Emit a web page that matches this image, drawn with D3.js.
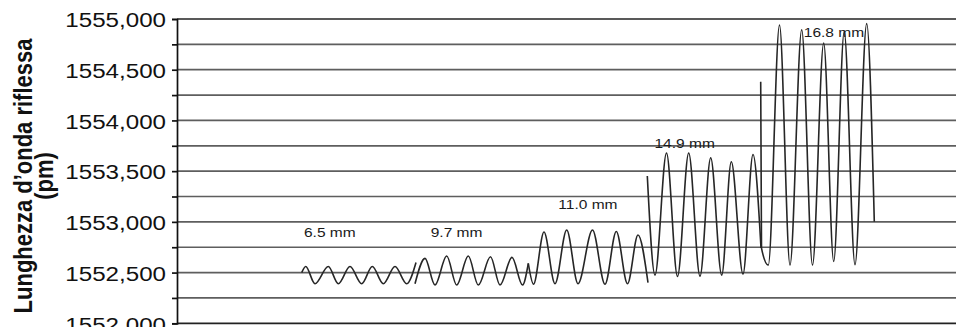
<!DOCTYPE html>
<html>
<head>
<meta charset="utf-8">
<script src="https://cdn.jsdelivr.net/npm/d3@7"></script>
<style>
  html, body { margin: 0; padding: 0; background: #fff; }
  svg { display: block; font-family: "Liberation Sans", Arial, sans-serif; }
</style>
</head>
<body>
<div id="chart"></div>
<script>
// Sample index along the record (no x axis shown) and reflected wavelength
let seg65T = [124.7, 128.7, 138, 151.3, 161.3, 173, 184.7, 195.3, 206.3, 218, 229.7, 239]
let seg65V = [1552.50, 1552.56, 1552.39, 1552.56, 1552.39, 1552.56, 1552.39, 1552.56, 1552.39, 1552.56, 1552.39, 1552.60]

let seg97T = [238, 248, 258, 269.7, 279.7, 291.3, 301.3, 313.5, 323, 335, 345.5, 351.3]
let seg97V = [1552.39, 1552.64, 1552.377, 1552.663, 1552.377, 1552.663, 1552.377, 1552.656, 1552.377, 1552.65, 1552.377, 1552.59]

let seg110T = [351.3, 356.5, 367, 378, 389.7, 401, 415.5, 428, 439.3, 450.5, 461, 471]
let seg110V = [1552.59, 1552.385, 1552.90, 1552.39, 1552.92, 1552.39, 1552.92, 1552.385, 1552.905, 1552.39, 1552.87, 1552.40]

let seg149T = [470.3, 478, 489.5, 500.5, 511.7, 523, 533.7, 544.7, 554.3, 566, 576, 584]
let seg149V = [1553.452, 1552.475, 1553.679, 1552.462, 1553.679, 1552.465, 1553.632, 1552.475, 1553.593, 1552.485, 1553.664, 1552.742]

let seg168T = [583.7, 584.5, 591.3, 602.5, 613, 624.7, 635.5, 646.7, 656.7, 667.2, 678, 689.7, 697.3]
let seg168V = [1554.382, 1552.742, 1552.574, 1554.941, 1552.574, 1554.894, 1552.574, 1554.763, 1552.61, 1554.875, 1552.577, 1554.954, 1553.001]

// Annotations (anchor in data units)
let labelText = ['6.5 mm', '9.7 mm', '11.0 mm', '14.9 mm', '16.8 mm']
let labelT = [127, 253.7, 381.3, 477.5, 626.8]
let labelV = [1552.853, 1552.853, 1553.123, 1553.725, 1554.818]

let yTicks = d3.range(1552, 1555.001, 0.25)

let margin = { top: 19, right: 0, bottom: 3.7, left: 177 }
let size = { width: 956, height: 327 }
let width = size.width - margin.left - margin.right
let height = size.height - margin.top - margin.bottom
let stretch = 1.15

let x = d3.scaleLinear().domain([0, 779]).range([0, width])
let y = d3.scaleLinear().domain([1552, 1555]).range([height, 0])

let locale = d3.formatLocale({ decimal: ',', thousands: '.', grouping: [3], currency: ['', ''] })
let fmt = locale.format('.3f')

let svg = d3.select('#chart').append('svg')
  .attr('width', size.width)
  .attr('height', size.height)

let g = svg.append('g')
  .attr('transform', `translate(${margin.left}, ${margin.top})`)

// Horizontal grid lines
g.append('g')
  .selectAll('line')
  .data(yTicks)
  .enter()
  .append('line')
  .attr('x1', 0)
  .attr('x2', width)
  .attr('y1', d => y(d))
  .attr('y2', d => y(d))
  .attr('stroke', d => (d === 1552 || d === 1555) ? '#222' : '#5e5e5e')
  .attr('stroke-width', 1.7)

// Y axis
let axis = g.append('g')
  .call(d3.axisLeft(y)
    .tickValues(yTicks)
    .tickSize(5)
    .tickPadding(6)
    .tickFormat(d => (Math.round(d * 1000) % 500 === 0) ? fmt(d) : ''))

axis.select('.domain').attr('stroke', '#111').attr('stroke-width', 1.7)
axis.selectAll('.tick line').attr('stroke', '#111').attr('stroke-width', 1.7)
axis.selectAll('.tick text')
  .attr('x', -11 / stretch)
  .attr('dy', '0.37em')
  .attr('transform', `scale(${stretch}, 1)`)
  .style('font-size', '21px')
  .style('fill', '#111')

// Signal segments
let segments = [
  d3.zip(seg65T, seg65V),
  d3.zip(seg97T, seg97V),
  d3.zip(seg110T, seg110V),
  d3.zip(seg149T, seg149V),
  d3.zip(seg168T, seg168V)
]

let line = d3.line()
  .x(d => x(d[0]))
  .y(d => y(d[1]))
  .curve(d3.curveMonotoneX)

g.selectAll('.seg')
  .data(segments)
  .enter()
  .append('path')
  .attr('class', 'seg')
  .attr('d', line)
  .attr('fill', 'none')
  .attr('stroke', '#262626')
  .attr('stroke-width', 1.6)

// Segment labels
g.selectAll('.lbl')
  .data(labelText)
  .enter()
  .append('text')
  .attr('class', 'lbl')
  .attr('transform', (d, i) => `translate(${x(labelT[i])}, ${y(labelV[i])}) scale(${stretch}, 1)`)
  .style('font-size', '13.5px')
  .style('fill', '#1a1a1a')
  .text(d => d)

// Y axis title
let title = svg.append('g')
  .attr('transform', `translate(0, 176) scale(${stretch}, 1) rotate(-90)`)
  .style('font-weight', 'bold')
  .style('font-size', '22px')
  .style('fill', '#111')
  .attr('text-anchor', 'middle')

title.append('text').attr('x', 0).attr('y', 27.5).text('Lunghezza d’onda riflessa')
title.append('text').attr('x', 0).attr('y', 46.5).text('(pm)')
</script>
</body>
</html>
